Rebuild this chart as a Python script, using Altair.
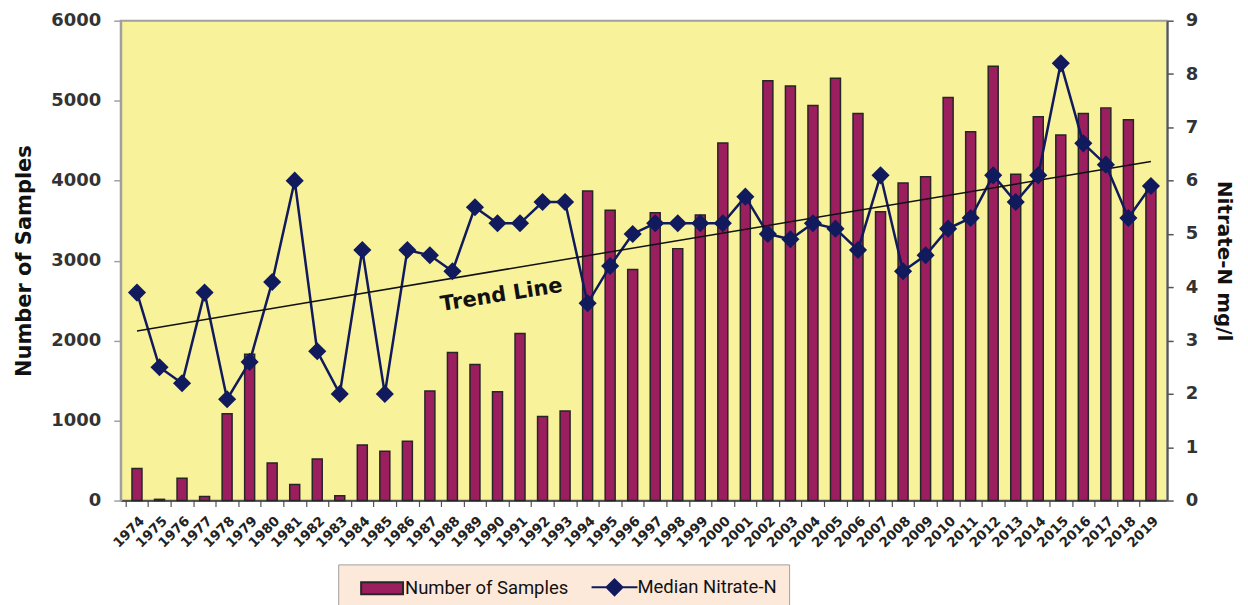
import altair as alt
import pandas as pd

years = list(range(1974, 2020))
samples = [400, 15, 280, 50, 1085, 1830, 470, 200, 520, 60,
           695, 615, 740, 1370, 1850, 1700, 1360, 2090, 1050, 1120,
           3870, 3630, 2890, 3600, 3150, 3570, 4470, 3800, 5250, 5185,
           4940, 5280, 4840, 3610, 3970, 4050, 5040, 4610, 5430, 4080,
           4800, 4570, 4840, 4910, 4760, 3900]
nitrate = [3.9, 2.5, 2.2, 3.9, 1.9, 2.6, 4.1, 6.0, 2.8, 2.0,
           4.7, 2.0, 4.7, 4.6, 4.3, 5.5, 5.2, 5.2, 5.6, 5.6,
           3.7, 4.4, 5.0, 5.2, 5.2, 5.2, 5.2, 5.7, 5.0, 4.9,
           5.2, 5.1, 4.7, 6.1, 4.3, 4.6, 5.1, 5.3, 6.1, 5.6,
           6.1, 8.2, 6.7, 6.3, 5.3, 5.9]
left_ticks = [0, 1000, 2000, 3000, 4000, 5000, 6000]
right_ticks = [0, 1, 2, 3, 4, 5, 6, 7, 8, 9]
legend_names = ["Number of Samples", "Median Nitrate-N"]
trend_label = "Trend Line"
trend_label_year = 1990.0

df = pd.DataFrame({"year": years, "samples": samples, "nitrate": nitrate})
legend_df = pd.DataFrame({"series": legend_names})

MAG = "#9b1f5f"
NAVY = "#101a5c"
YEL = "#f8f29a"
W, H = 1049, 481
step = W / len(years)
BOLD = "DejaVu Sans"

x_scale = alt.Scale(domain=[1973.5, 2019.5], nice=False, zero=False)
x_axis = alt.Axis(values=years, format="d", labelOverlap=False, labelAngle=-45,
                  labelAlign="right", labelBaseline="top",
                  tickOffset=-step / 2, labelOffset=step / 2, labelFont=BOLD,
                  labelFontWeight="bold", labelFontSize=13.5, labelColor="#222",
                  tickColor="#555", tickSize=6, tickWidth=1.2, domainColor="#333",
                  domainWidth=1.5, labelPadding=7, title=None, grid=False)
X = alt.X("year:Q", scale=x_scale, axis=x_axis)

y_left = alt.Y("samples:Q", scale=alt.Scale(domain=[0, 6000], nice=False),
               axis=alt.Axis(orient="left", values=left_ticks, format="d", title="Number of Samples",
                             labelFont=BOLD, labelFontWeight="bold", labelFontSize=18,
                             labelColor="#333", tickColor="#a0a0a0", tickSize=7, tickWidth=1.5,
                             domainColor="#a0a0a0", domainWidth=2, labelPadding=13,
                             titleFont=BOLD, titleFontWeight="bold", titleFontSize=21,
                             titleColor="#111", titlePadding=16, grid=False))
y_right_scale = alt.Scale(domain=[0, 9], nice=False)
y_right_axis = alt.Axis(orient="right", values=right_ticks, format="d", title="Nitrate-N mg/l",
                        labelFont=BOLD, labelFontWeight="bold", labelFontSize=18,
                        labelColor="#333", tickColor="#555", tickSize=6, tickWidth=1.5,
                        domainColor="#555", domainWidth=2, labelPadding=12,
                        titleFont=BOLD, titleFontWeight="bold", titleFontSize=20,
                        titleColor="#111", titlePadding=16, grid=False)
Y_R = alt.Y("nitrate:Q", scale=y_right_scale, axis=y_right_axis)

bars = alt.Chart(df).mark_bar(size=10, fill=MAG, stroke="#262626", strokeWidth=1.5).encode(
    x=X, y=y_left)

line = alt.Chart(df).mark_line(color=NAVY, strokeWidth=2.5).encode(x=X, y=Y_R)
points = alt.Chart(df).mark_point(shape="diamond", filled=True, size=330, color=NAVY,
                                  opacity=1).encode(x=X, y=Y_R)
trend = alt.Chart(df).transform_regression("year", "nitrate").mark_line(
    color="#111", strokeWidth=1.5).encode(x=X, y=Y_R)
trend_text = alt.Chart(df).transform_regression("year", "nitrate", params=True).transform_calculate(
    year=f"{trend_label_year}",
    nitrate=f"datum.coef[0] + datum.coef[1] * {trend_label_year}",
).mark_text(text=trend_label, angle=351, dy=25, font=BOLD, fontWeight="bold",
            fontSize=21, color="#111").encode(x=X, y=Y_R)

# legend symbols (unit square scaled by 10 px, nominal centre at 10 px from entry start)
rect_path = "M0,-0.6H4.2V0.6H0Z"
line_path = "M-0.2,0H4.4M2.1,-0.8L2.9,0L2.1,0.8L1.3,0Z"
leg = alt.Legend(title=None, orient="none", legendX=218, legendY=545, direction="horizontal",
                 fillColor="#fde9d9", strokeColor="#a0a0a0", padding=12,
                 symbolSize=400, symbolStrokeWidth=2, labelFont="Roboto", labelFontSize=18.5,
                 labelColor="#111", labelOffset=33, labelLimit=600, columnPadding=14)
legend_layer = alt.Chart(legend_df).transform_filter("false").mark_point(filled=True, opacity=1).encode(
    shape=alt.Shape("series:N", scale=alt.Scale(domain=legend_names, range=[rect_path, line_path]), legend=leg),
    fill=alt.Fill("series:N", scale=alt.Scale(domain=legend_names, range=[MAG, NAVY]), legend=leg),
    stroke=alt.Stroke("series:N", scale=alt.Scale(domain=legend_names, range=["#262626", NAVY]), legend=leg),
)

right = alt.layer(line, trend, trend_text, points, legend_layer)
chart = alt.layer(bars, right).resolve_scale(y="independent").properties(
    width=W, height=H, padding={"left": 5, "top": 3, "right": 6, "bottom": 0},
    background="white",
    view=alt.ViewBackground(fill=YEL, stroke="#a0a0a0", strokeWidth=2),
).configure_view(fill=YEL, stroke="#a0a0a0", strokeWidth=2)

chart.save("out.html", embed_options={"renderer": "svg", "actions": False})
